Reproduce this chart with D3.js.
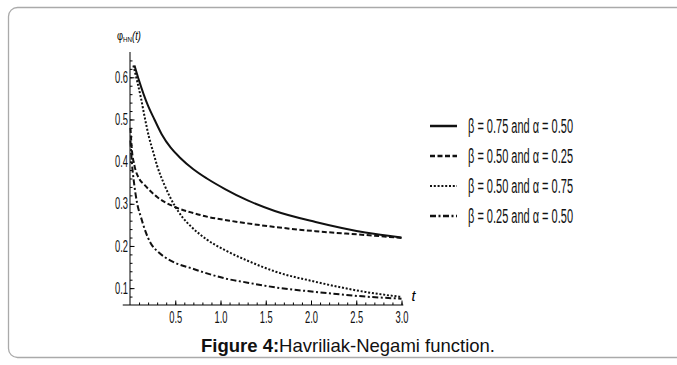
<!DOCTYPE html>
<html>
<head>
<meta charset="utf-8">
<script src="https://cdn.jsdelivr.net/npm/d3@7"></script>
<style>
  body { margin: 0; background: #fff; }
  svg { display: block; font-family: "Liberation Sans", Arial, sans-serif; }
</style>
</head>
<body>
<svg id="chart" width="677" height="365"></svg>
<script>
// values
const seriesNames = ["β = 0.75 and α = 0.50", "β = 0.50 and α = 0.25", "β = 0.50 and α = 0.75", "β = 0.25 and α = 0.50"];

const tSolid = [0.05, 0.1, 0.15, 0.2, 0.27, 0.35, 0.45, 0.55, 0.7, 0.85, 1.05, 1.3, 1.6, 2.05, 2.6, 3.0];
const vSolid = [0.628, 0.592, 0.56, 0.532, 0.5, 0.465, 0.433, 0.41, 0.382, 0.36, 0.335, 0.308, 0.283, 0.257, 0.232, 0.22];

const tDashed = [0.005, 0.02, 0.05, 0.1, 0.16, 0.3, 0.49, 0.7, 0.86, 1.1, 1.6, 2.05, 2.6, 3.0];
const vDashed = [0.48, 0.43, 0.39, 0.36, 0.345, 0.316, 0.293, 0.278, 0.269, 0.26, 0.245, 0.235, 0.226, 0.219];

const tDotted = [0.037, 0.08, 0.12, 0.16, 0.21, 0.26, 0.3, 0.38, 0.49, 0.58, 0.68, 0.85, 1.05, 1.3, 1.61, 2.05, 2.6, 3.0];
const vDotted = [0.628, 0.59, 0.552, 0.508, 0.458, 0.42, 0.39, 0.345, 0.297, 0.268, 0.245, 0.215, 0.19, 0.165, 0.139, 0.115, 0.091, 0.079];

const tDashDot = [0.005, 0.02, 0.045, 0.08, 0.12, 0.17, 0.23, 0.3, 0.38, 0.5, 0.68, 0.85, 1.05, 1.3, 1.6, 2.05, 2.6, 3.0];
const vDashDot = [0.45, 0.40, 0.349, 0.30, 0.269, 0.235, 0.206, 0.188, 0.174, 0.16, 0.147, 0.135, 0.123, 0.113, 0.102, 0.091, 0.08, 0.075];

const xTicks = [0.5, 1.0, 1.5, 2.0, 2.5, 3.0];
const yTicks = [0.1, 0.2, 0.3, 0.4, 0.5, 0.6];

const svg = d3.select("#chart");

// frame
svg.append("rect")
  .attr("x", 8.5).attr("y", 7.5)
  .attr("width", 720).attr("height", 350)
  .attr("rx", 9)
  .attr("fill", "none")
  .attr("stroke", "#aaa")
  .attr("stroke-width", 1.3);

const x = d3.scaleLinear().domain([0, 3]).range([130, 401.5]);
const y = d3.scaleLinear().domain([0.06, 0.66]).range([305, 52]);

// x axis (ticks point up, like Mathematica)
const xAxis = svg.append("g").attr("transform", "translate(0," + y(0.06) + ")");
xAxis.append("line")
  .attr("x1", x(-0.08)).attr("x2", x(3.02))
  .attr("stroke", "#000").attr("stroke-width", 1);
xAxis.call(d3.axisBottom(x).tickValues(d3.range(1, 31).map(d => d / 10)).tickSize(-2.5).tickFormat(""))
  .call(g => g.select(".domain").remove());
const xMajor = svg.append("g").attr("transform", "translate(0," + y(0.06) + ")")
  .call(d3.axisBottom(x).tickValues(xTicks).tickSize(-4.5).tickPadding(7).tickFormat(d3.format(".1f")));
xMajor.select(".domain").remove();
xMajor.selectAll("text")
  .attr("font-size", 16)
  .attr("textLength", 13)
  .attr("lengthAdjust", "spacingAndGlyphs")
  .attr("fill", "#111");

// y axis
const yAxis = svg.append("g").attr("transform", "translate(" + x(0) + ",0)");
yAxis.append("line")
  .attr("y1", y(0.06)).attr("y2", y(0.66))
  .attr("stroke", "#000").attr("stroke-width", 1);
yAxis.call(d3.axisLeft(y).tickValues(d3.range(4, 33).map(d => d / 50)).tickSize(-2.5).tickFormat(""))
  .call(g => g.select(".domain").remove());
const yMajor = svg.append("g").attr("transform", "translate(" + x(0) + ",0)")
  .call(d3.axisLeft(y).tickValues(yTicks).tickSize(-4.5).tickPadding(2).tickFormat(d3.format(".1f")));
yMajor.select(".domain").remove();
yMajor.selectAll("text")
  .attr("font-size", 16)
  .attr("textLength", 13)
  .attr("lengthAdjust", "spacingAndGlyphs")
  .attr("fill", "#111");

// axis labels
svg.append("text")
  .attr("x", x(3) + 10).attr("y", y(0.06) - 4)
  .attr("font-size", 14).attr("font-style", "italic")
  .attr("textLength", 4)
  .attr("lengthAdjust", "spacingAndGlyphs")
  .text("t");

// condensed y label, squeezed with a scale instead of textLength
const yl = svg.append("g").attr("transform", "translate(117,40) scale(0.78,1)")
  .append("text")
  .attr("font-size", 12);
yl.append("tspan").text("φ");
yl.append("tspan").attr("font-size", 8).attr("dy", 1.5).text("HN");
yl.append("tspan").attr("dy", -1.5).attr("font-style", "italic").text("(t)");

// curves
const styles = [
  { dash: null, width: 2 },
  { dash: "5,2.5", width: 2 },
  { dash: "2,1.8", width: 2 },
  { dash: "6,2.5,2,2.5", width: 2 }
];
const series = [
  [tSolid, vSolid],
  [tDashed, vDashed],
  [tDotted, vDotted],
  [tDashDot, vDashDot]
];

const line = d3.line()
  .x(d => x(d[0]))
  .y(d => y(d[1]))
  .curve(d3.curveMonotoneX);

series.forEach((s, i) => {
  const pts = s[0].map((t, j) => [t, s[1][j]]);
  svg.append("path")
    .datum(pts)
    .attr("d", line)
    .attr("fill", "none")
    .attr("stroke", "#111")
    .attr("stroke-width", styles[i].width)
    .attr("stroke-dasharray", styles[i].dash);
});

// legend
const legend = svg.append("g").attr("transform", "translate(430,126)");
seriesNames.forEach((name, i) => {
  const row = legend.append("g").attr("transform", "translate(0," + (i * 30) + ")");
  row.append("line")
    .attr("x1", 0).attr("x2", 27)
    .attr("stroke", "#111")
    .attr("stroke-width", i === 2 ? 2 : 2.5)
    .attr("stroke-dasharray", styles[i].dash);
  row.append("text")
    .attr("x", 38).attr("y", 7)
    .attr("font-size", 20)
    .attr("textLength", 105)
    .attr("lengthAdjust", "spacingAndGlyphs")
    .attr("fill", "#111")
    .text(name);
});

// caption
const cap = svg.append("text")
  .attr("x", 348).attr("y", 352)
  .attr("text-anchor", "middle")
  .attr("font-size", 18.5)
  .attr("fill", "#111");
cap.append("tspan").attr("font-weight", "bold").text("Figure 4:");
cap.append("tspan").text("Havriliak-Negami function.");
</script>
</body>
</html>
